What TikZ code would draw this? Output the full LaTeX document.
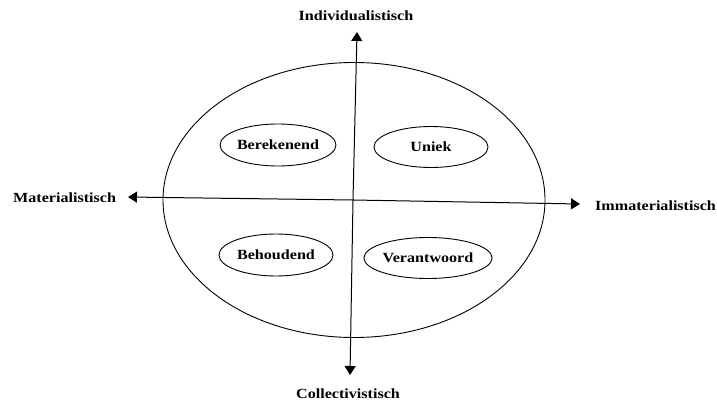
\documentclass[tikz,border=0pt]{standalone}
\usepackage{fontspec}
\setmainfont{Liberation Serif}
\newfontfamily\lblfont[FakeStretch=1.15]{Liberation Serif}
\usetikzlibrary{arrows.meta,shapes.geometric}
\begin{document}
\begin{tikzpicture}[x=1pt,y=-1pt,
  lbl/.style={font=\lblfont\bfseries\fontsize{14}{16}\selectfont, inner sep=0pt},
  small/.style={draw, line width=0.9pt, ellipse, minimum width=113pt, minimum height=42pt, inner sep=0pt, font=\lblfont\bfseries\fontsize{14}{16}\selectfont},
  axis/.style={line width=1pt, -{Triangle[length=9pt,width=11pt]}}]
\useasboundingbox (0,0) rectangle (717,401);
\node[draw, line width=0.9pt, ellipse, minimum width=382pt, minimum height=275pt, inner sep=0pt] (big) at (354,200) {};
\coordinate (c) at (353,200);
\coordinate (top) at (357,32);
\coordinate (bot) at (350,375);
\coordinate (lft) at (128,197);
\coordinate (rgt) at (580,204);
\draw[axis] (c) -- (top);
\draw[axis] (c) -- (bot);
\draw[axis] (c) -- (lft);
\draw[axis] (c) -- (rgt);
\node[lbl] (ind) at (356,16) {Individualistisch};
\node[lbl] (col) at (348,394) {Collectivistisch};
\node[lbl, anchor=west] (mat) at (13,198) {Materialistisch};
\node[lbl, anchor=west] (imm) at (595,206) {Immaterialistisch};
\node[small] (ber) at (278,145) {Berekenend};
\node[small, minimum width=114pt, minimum height=41pt] (uni) at (431,147) {Uniek};
\node[small, minimum width=114pt] (beh) at (276,255) {Behoudend};
\node[small, minimum height=41pt] (ver) at (428,258) {Verantwoord};
\end{tikzpicture}
\end{document}
